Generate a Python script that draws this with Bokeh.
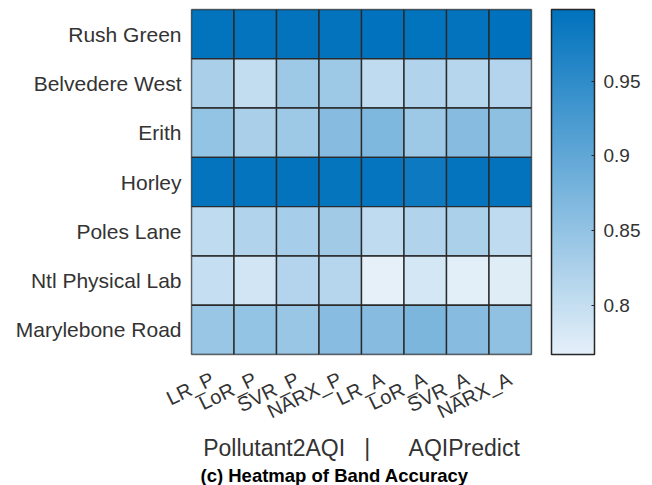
from bokeh.plotting import figure
from bokeh.models import (LinearColorMapper, ColorBar, FixedTicker,
                          CustomJSTickFormatter, Title, ColumnDataSource)
from bokeh.embed import file_html
from bokeh.resources import INLINE
from math import radians

stations = ["Rush Green", "Belvedere West", "Erith", "Horley",
            "Poles Lane", "Ntl Physical Lab", "Marylebone Road"]
models = ["LR_P", "LoR_P", "SVR_P", "NARX_P", "LR_A", "LoR_A", "SVR_A", "NARX_A"]

rush_green = [0.996, 0.994, 0.995, 0.995, 0.997, 0.996, 0.995, 0.998]
belvedere_west = [0.827, 0.803, 0.840, 0.840, 0.806, 0.820, 0.815, 0.818]
erith = [0.849, 0.828, 0.840, 0.862, 0.870, 0.840, 0.862, 0.855]
horley = [0.993, 0.994, 0.995, 0.992, 0.991, 0.985, 0.994, 0.995]
poles_lane = [0.805, 0.820, 0.831, 0.836, 0.805, 0.820, 0.826, 0.805]
ntl_physical_lab = [0.800, 0.787, 0.818, 0.815, 0.767, 0.785, 0.770, 0.774]
marylebone_road = [0.844, 0.849, 0.843, 0.861, 0.862, 0.873, 0.862, 0.853]

rows = [rush_green, belvedere_west, erith, horley,
        poles_lane, ntl_physical_lab, marylebone_road]

cbar_ticks = [0.8, 0.85, 0.9, 0.95]
x_title = "Pollutant2AQI" + "\u00a0" * 3 + "|" + "\u00a0" * 6 + "AQIPredict"
caption = "(c) Heatmap of Band Accuracy"

FONT = "Liberation Sans"
TXT = "#333333"

# colormap: light blue to MATLAB blue
lo_c = (229, 240, 249)
hi_c = (0, 114, 189)
palette = []
for i in range(256):
    t = i / 255
    r, g, b = (round(lo_c[k] + (hi_c[k] - lo_c[k]) * t) for k in range(3))
    palette.append("#%02x%02x%02x" % (r, g, b))

xs, ys, vs = [], [], []
for st, vals in zip(stations, rows):
    for m, v in zip(models, vals):
        xs.append(m)
        ys.append(st)
        vs.append(v)
src = ColumnDataSource(dict(x=xs, y=ys, v=vs))

mapper = LinearColorMapper(palette=palette, low=min(vs), high=max(vs))

p = figure(width=652, height=485, x_range=models, y_range=list(reversed(stations)),
           output_backend="svg", toolbar_location=None,
           min_border_left=191, min_border_right=121,
           min_border_top=9, min_border_bottom=131)
p.rect(x="x", y="y", width=1, height=1, source=src,
       fill_color={"field": "v", "transform": mapper},
       line_color="#2a2a2a", line_width=1.4)

p.grid.visible = False
p.outline_line_color = "#808080"
p.outline_line_width = 1.5

for ax in (p.xaxis[0], p.yaxis[0]):
    ax.axis_line_color = None
    ax.major_tick_line_color = None
    ax.minor_tick_line_color = None
    ax.major_tick_out = 0
    ax.major_tick_in = 0
    ax.major_label_text_font = FONT
    ax.major_label_text_color = TXT

p.yaxis.major_label_text_font_size = "21px"
p.yaxis.major_label_standoff = 10
p.xaxis.major_label_text_font_size = "20px"
p.xaxis.major_label_standoff = 23
p.xaxis.major_label_orientation = radians(26)
p.xaxis.axis_label = x_title
p.xaxis.axis_label_text_font = FONT
p.xaxis.axis_label_text_font_size = "23px"
p.xaxis.axis_label_text_font_style = "normal"
p.xaxis.axis_label_text_color = TXT
p.xaxis.axis_label_standoff = 0

cb = ColorBar(color_mapper=mapper, width=43, height=345, margin=0, padding=0,
              location=(360, 0),
              ticker=FixedTicker(ticks=cbar_ticks),
              formatter=CustomJSTickFormatter(code="return tick.toString()"),
              major_label_text_font=FONT, major_label_text_font_size="19px",
              major_label_text_color=TXT, label_standoff=9,
              major_tick_line_color="#262626", major_tick_in=3, major_tick_out=0,
              bar_line_color="#262626", bar_line_width=1.5,
              border_line_color=None, background_fill_color=None)
p.add_layout(cb, "center")

cap = Title(text=caption, align="left", offset=9, standoff=-4,
            text_font=FONT, text_font_size="18.5px", text_font_style="bold",
            text_color="black")
p.add_layout(cap, "below")

open("out.html", "w").write(file_html(p, INLINE))
